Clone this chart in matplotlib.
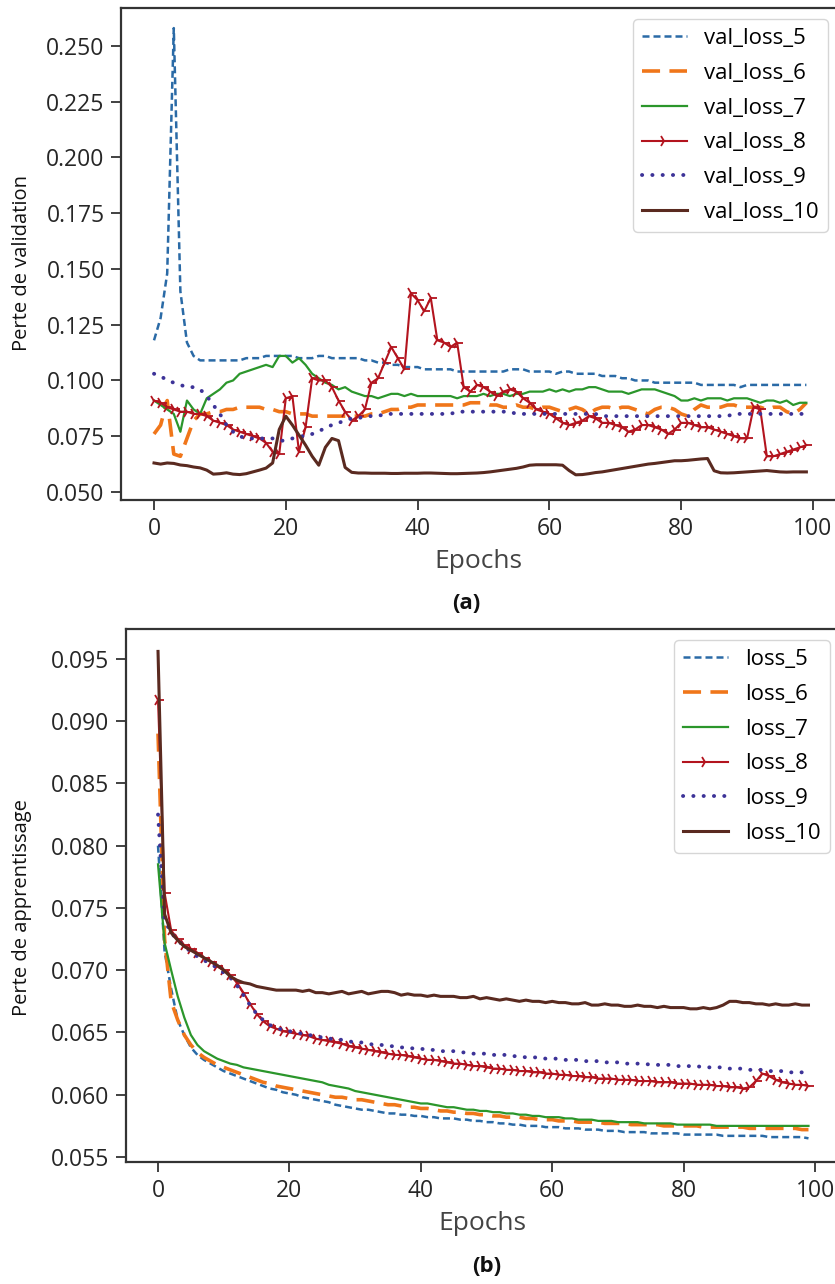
import numpy as np
import matplotlib
matplotlib.use("Agg")
from matplotlib import pyplot as plt
from matplotlib.ticker import FormatStrFormatter

plt.rcParams["font.family"] = ["Open Sans", "DejaVu Sans"]

epochs = np.arange(100)

# (a) validation loss per epoch
val_loss_5 = [
    0.118, 0.128, 0.148, 0.258, 0.140, 0.117, 0.111, 0.109, 0.109, 0.109,
    0.109, 0.109, 0.109, 0.109, 0.110, 0.110, 0.110, 0.111, 0.111, 0.111,
    0.111, 0.111, 0.110, 0.110, 0.110, 0.111, 0.111, 0.110, 0.110, 0.110,
    0.110, 0.110, 0.109, 0.109, 0.108, 0.108, 0.107, 0.107, 0.106, 0.106,
    0.106, 0.105, 0.105, 0.105, 0.105, 0.105, 0.104, 0.104, 0.104, 0.104,
    0.104, 0.104, 0.104, 0.104, 0.105, 0.105, 0.105, 0.104, 0.104, 0.104,
    0.104, 0.103, 0.104, 0.104, 0.103, 0.103, 0.103, 0.103, 0.102, 0.102,
    0.102, 0.101, 0.101, 0.100, 0.100, 0.100, 0.099, 0.099, 0.099, 0.099,
    0.099, 0.099, 0.099, 0.098, 0.098, 0.098, 0.098, 0.098, 0.098, 0.097,
    0.098, 0.098, 0.098, 0.098, 0.098, 0.098, 0.098, 0.098, 0.098, 0.098,
]
val_loss_6 = [
    0.076, 0.080, 0.091, 0.067, 0.066, 0.074, 0.082, 0.085, 0.085, 0.086,
    0.086, 0.087, 0.087, 0.088, 0.088, 0.088, 0.088, 0.087, 0.087, 0.086,
    0.086, 0.085, 0.085, 0.085, 0.084, 0.084, 0.084, 0.084, 0.084, 0.084,
    0.084, 0.084, 0.084, 0.085, 0.085, 0.086, 0.087, 0.087, 0.088, 0.088,
    0.089, 0.089, 0.089, 0.089, 0.089, 0.089, 0.089, 0.089, 0.090, 0.090,
    0.090, 0.089, 0.089, 0.088, 0.088, 0.089, 0.088, 0.088, 0.087, 0.088,
    0.088, 0.087, 0.086, 0.087, 0.088, 0.087, 0.085, 0.087, 0.088, 0.088,
    0.087, 0.088, 0.088, 0.087, 0.086, 0.085, 0.087, 0.088, 0.088, 0.087,
    0.085, 0.084, 0.087, 0.089, 0.088, 0.088, 0.088, 0.089, 0.089, 0.088,
    0.088, 0.088, 0.088, 0.087, 0.088, 0.088, 0.086, 0.085, 0.087, 0.090,
]
val_loss_7 = [
    0.091, 0.089, 0.087, 0.085, 0.077, 0.091, 0.087, 0.085, 0.092, 0.094,
    0.096, 0.099, 0.100, 0.103, 0.104, 0.105, 0.106, 0.107, 0.106, 0.111,
    0.111, 0.108, 0.110, 0.107, 0.103, 0.101, 0.099, 0.098, 0.096, 0.097,
    0.095, 0.094, 0.093, 0.093, 0.092, 0.093, 0.094, 0.094, 0.093, 0.094,
    0.093, 0.093, 0.093, 0.093, 0.093, 0.093, 0.092, 0.093, 0.093, 0.093,
    0.094, 0.093, 0.094, 0.094, 0.093, 0.094, 0.094, 0.095, 0.095, 0.095,
    0.096, 0.095, 0.096, 0.095, 0.096, 0.096, 0.097, 0.097, 0.096, 0.095,
    0.095, 0.095, 0.094, 0.095, 0.096, 0.096, 0.096, 0.095, 0.094, 0.093,
    0.091, 0.091, 0.092, 0.091, 0.092, 0.092, 0.092, 0.091, 0.092, 0.092,
    0.092, 0.091, 0.090, 0.091, 0.091, 0.090, 0.091, 0.089, 0.090, 0.090,
]
val_loss_8 = [
    0.091, 0.090, 0.088, 0.087, 0.086, 0.086, 0.085, 0.085, 0.084, 0.082,
    0.081, 0.080, 0.078, 0.077, 0.076, 0.075, 0.074, 0.072, 0.068, 0.067,
    0.092, 0.093, 0.068, 0.079, 0.101, 0.100, 0.100, 0.097, 0.091, 0.086,
    0.082, 0.084, 0.087, 0.099, 0.101, 0.108, 0.115, 0.110, 0.105, 0.139,
    0.136, 0.131, 0.137, 0.118, 0.117, 0.115, 0.117, 0.097, 0.095, 0.098,
    0.097, 0.095, 0.093, 0.095, 0.096, 0.095, 0.092, 0.090, 0.087, 0.086,
    0.085, 0.083, 0.081, 0.080, 0.081, 0.082, 0.084, 0.083, 0.081, 0.081,
    0.080, 0.079, 0.077, 0.078, 0.080, 0.080, 0.079, 0.078, 0.076, 0.078,
    0.081, 0.081, 0.080, 0.079, 0.079, 0.078, 0.077, 0.076, 0.075, 0.074,
    0.074, 0.088, 0.087, 0.066, 0.066, 0.067, 0.068, 0.069, 0.070, 0.071,
]
val_loss_9 = [
    0.103, 0.102, 0.100, 0.099, 0.098, 0.097, 0.097, 0.096, 0.093, 0.089,
    0.085, 0.080, 0.077, 0.075, 0.074, 0.074, 0.074, 0.074, 0.074, 0.073,
    0.073, 0.074, 0.075, 0.075, 0.076, 0.077, 0.079, 0.080, 0.081, 0.082,
    0.083, 0.083, 0.084, 0.084, 0.084, 0.085, 0.085, 0.085, 0.085, 0.085,
    0.085, 0.085, 0.085, 0.085, 0.085, 0.085, 0.086, 0.086, 0.086, 0.086,
    0.086, 0.086, 0.086, 0.086, 0.086, 0.085, 0.085, 0.085, 0.085, 0.085,
    0.085, 0.085, 0.085, 0.085, 0.085, 0.085, 0.085, 0.085, 0.084, 0.084,
    0.084, 0.084, 0.084, 0.084, 0.084, 0.084, 0.084, 0.084, 0.084, 0.084,
    0.084, 0.084, 0.084, 0.084, 0.084, 0.084, 0.084, 0.084, 0.085, 0.085,
    0.085, 0.085, 0.085, 0.085, 0.085, 0.085, 0.085, 0.085, 0.085, 0.085,
]
val_loss_10 = [
    0.0630, 0.0625, 0.0630, 0.0628, 0.0621, 0.0618, 0.0612, 0.0608, 0.0598, 0.0580,
    0.0582, 0.0586, 0.0580, 0.0578, 0.0582, 0.0590, 0.0598, 0.0607, 0.0630, 0.0780,
    0.0840, 0.0800, 0.0755, 0.0710, 0.0660, 0.0620, 0.0700, 0.0740, 0.0730, 0.0610,
    0.0588, 0.0585, 0.0585, 0.0584, 0.0584, 0.0584, 0.0583, 0.0583, 0.0584, 0.0584,
    0.0584, 0.0585, 0.0585, 0.0584, 0.0583, 0.0582, 0.0582, 0.0583, 0.0584, 0.0585,
    0.0587, 0.0590, 0.0594, 0.0598, 0.0602, 0.0606, 0.0612, 0.0620, 0.0622, 0.0622,
    0.0622, 0.0622, 0.0620, 0.0596, 0.0577, 0.0578, 0.0582, 0.0587, 0.0590, 0.0595,
    0.0600, 0.0605, 0.0610, 0.0615, 0.0620, 0.0625, 0.0628, 0.0632, 0.0636, 0.0640,
    0.0640, 0.0642, 0.0645, 0.0648, 0.0650, 0.0595, 0.0586, 0.0585, 0.0586, 0.0588,
    0.0590, 0.0592, 0.0594, 0.0596, 0.0593, 0.0590, 0.0589, 0.0590, 0.0590, 0.0590,
]

# (b) training loss per epoch
loss_5 = [
    0.0800, 0.0715, 0.0685, 0.0660, 0.0648, 0.0638, 0.0632, 0.0628, 0.0625, 0.0622,
    0.0619, 0.0617, 0.0615, 0.0613, 0.0611, 0.0609, 0.0607, 0.0605, 0.0604, 0.0602,
    0.0601, 0.0600, 0.0598, 0.0597, 0.0596, 0.0595, 0.0594, 0.0592, 0.0591, 0.0590,
    0.0589, 0.0588, 0.0588, 0.0587, 0.0586, 0.0585, 0.0585, 0.0584, 0.0584, 0.0583,
    0.0583, 0.0582, 0.0582, 0.0581, 0.0581, 0.0581, 0.0580, 0.0580, 0.0579, 0.0579,
    0.0578, 0.0578, 0.0577, 0.0577, 0.0576, 0.0576, 0.0575, 0.0575, 0.0575, 0.0574,
    0.0574, 0.0574, 0.0573, 0.0573, 0.0573, 0.0572, 0.0572, 0.0572, 0.0571, 0.0571,
    0.0571, 0.0570, 0.0570, 0.0570, 0.0570, 0.0569, 0.0569, 0.0569, 0.0569, 0.0569,
    0.0568, 0.0568, 0.0568, 0.0568, 0.0568, 0.0568, 0.0567, 0.0567, 0.0567, 0.0567,
    0.0567, 0.0567, 0.0567, 0.0566, 0.0566, 0.0566, 0.0566, 0.0566, 0.0566, 0.0565,
]
loss_6 = [
    0.0890, 0.0725, 0.0675, 0.0660, 0.0648, 0.0640, 0.0634, 0.0630, 0.0627, 0.0624,
    0.0622, 0.0620, 0.0618, 0.0616, 0.0614, 0.0612, 0.0610, 0.0609, 0.0607, 0.0606,
    0.0605, 0.0604, 0.0603, 0.0602, 0.0601, 0.0600, 0.0599, 0.0598, 0.0598, 0.0597,
    0.0596, 0.0596, 0.0595, 0.0594, 0.0593, 0.0592, 0.0592, 0.0591, 0.0590, 0.0590,
    0.0589, 0.0589, 0.0588, 0.0587, 0.0587, 0.0586, 0.0586, 0.0585, 0.0585, 0.0584,
    0.0584, 0.0583, 0.0583, 0.0582, 0.0582, 0.0582, 0.0581, 0.0581, 0.0580, 0.0580,
    0.0580, 0.0579, 0.0579, 0.0579, 0.0578, 0.0578, 0.0578, 0.0578, 0.0577, 0.0577,
    0.0577, 0.0577, 0.0576, 0.0576, 0.0576, 0.0576, 0.0576, 0.0575, 0.0575, 0.0575,
    0.0575, 0.0575, 0.0575, 0.0574, 0.0574, 0.0574, 0.0574, 0.0574, 0.0574, 0.0574,
    0.0573, 0.0573, 0.0573, 0.0573, 0.0573, 0.0573, 0.0573, 0.0573, 0.0572, 0.0572,
]
loss_7 = [
    0.0785, 0.0722, 0.0700, 0.0679, 0.0662, 0.0648, 0.0640, 0.0635, 0.0632, 0.0629,
    0.0627, 0.0625, 0.0624, 0.0622, 0.0621, 0.0620, 0.0619, 0.0618, 0.0617, 0.0616,
    0.0615, 0.0614, 0.0613, 0.0612, 0.0611, 0.0610, 0.0608, 0.0607, 0.0606, 0.0605,
    0.0603, 0.0602, 0.0601, 0.0600, 0.0599, 0.0598, 0.0597, 0.0596, 0.0595, 0.0594,
    0.0593, 0.0593, 0.0592, 0.0591, 0.0590, 0.0590, 0.0589, 0.0588, 0.0588, 0.0587,
    0.0587, 0.0586, 0.0586, 0.0585, 0.0585, 0.0584, 0.0584, 0.0583, 0.0583, 0.0582,
    0.0582, 0.0582, 0.0581, 0.0581, 0.0580, 0.0580, 0.0580, 0.0579, 0.0579, 0.0579,
    0.0578, 0.0578, 0.0578, 0.0578, 0.0577, 0.0577, 0.0577, 0.0577, 0.0577, 0.0576,
    0.0576, 0.0576, 0.0576, 0.0576, 0.0576, 0.0575, 0.0575, 0.0575, 0.0575, 0.0575,
    0.0575, 0.0575, 0.0575, 0.0575, 0.0575, 0.0575, 0.0575, 0.0575, 0.0575, 0.0575,
]
loss_8 = [
    0.0917, 0.0762, 0.0732, 0.0725, 0.0720, 0.0717, 0.0714, 0.0710, 0.0707, 0.0703,
    0.0700, 0.0696, 0.0690, 0.0682, 0.0673, 0.0665, 0.0659, 0.0655, 0.0653, 0.0651,
    0.0650, 0.0649, 0.0648, 0.0647, 0.0645, 0.0644, 0.0643, 0.0642, 0.0641, 0.0639,
    0.0638, 0.0637, 0.0636, 0.0635, 0.0634, 0.0633, 0.0632, 0.0632, 0.0631, 0.0630,
    0.0629, 0.0628, 0.0628, 0.0627, 0.0626, 0.0625, 0.0625, 0.0624, 0.0623, 0.0623,
    0.0622, 0.0621, 0.0621, 0.0620, 0.0620, 0.0619, 0.0619, 0.0618, 0.0618, 0.0617,
    0.0617, 0.0616, 0.0616, 0.0615, 0.0615, 0.0614, 0.0614, 0.0613, 0.0613, 0.0613,
    0.0612, 0.0612, 0.0612, 0.0611, 0.0611, 0.0611, 0.0610, 0.0610, 0.0610, 0.0609,
    0.0609, 0.0609, 0.0608, 0.0608, 0.0608, 0.0607, 0.0607, 0.0606, 0.0606, 0.0605,
    0.0606, 0.0611, 0.0617, 0.0615, 0.0612, 0.0610, 0.0609, 0.0608, 0.0608, 0.0607,
]
loss_9 = [
    0.0825, 0.0740, 0.0730, 0.0724, 0.0719, 0.0715, 0.0711, 0.0708, 0.0705, 0.0702,
    0.0698, 0.0694, 0.0688, 0.0680, 0.0672, 0.0665, 0.0660, 0.0656, 0.0654, 0.0652,
    0.0651, 0.0650, 0.0649, 0.0648, 0.0647, 0.0646, 0.0645, 0.0645, 0.0644, 0.0643,
    0.0642, 0.0642, 0.0641, 0.0640, 0.0640, 0.0639, 0.0639, 0.0638, 0.0638, 0.0637,
    0.0637, 0.0636, 0.0636, 0.0635, 0.0635, 0.0635, 0.0634, 0.0634, 0.0633, 0.0633,
    0.0633, 0.0632, 0.0632, 0.0632, 0.0631, 0.0631, 0.0630, 0.0630, 0.0630, 0.0629,
    0.0629, 0.0629, 0.0628, 0.0628, 0.0628, 0.0627, 0.0627, 0.0627, 0.0626, 0.0626,
    0.0626, 0.0625, 0.0625, 0.0625, 0.0625, 0.0624, 0.0624, 0.0624, 0.0624, 0.0623,
    0.0623, 0.0623, 0.0623, 0.0622, 0.0622, 0.0622, 0.0622, 0.0621, 0.0621, 0.0621,
    0.0620, 0.0620, 0.0620, 0.0619, 0.0619, 0.0619, 0.0618, 0.0618, 0.0618, 0.0617,
]
loss_10 = [
    0.0956, 0.0745, 0.0730, 0.0724, 0.0719, 0.0716, 0.0713, 0.0710, 0.0707, 0.0704,
    0.0700, 0.0695, 0.0692, 0.0690, 0.0689, 0.0687, 0.0686, 0.0685, 0.0684, 0.0684,
    0.0684, 0.0684, 0.0683, 0.0684, 0.0682, 0.0682, 0.0681, 0.0682, 0.0683, 0.0681,
    0.0682, 0.0683, 0.0681, 0.0682, 0.0683, 0.0683, 0.0682, 0.0680, 0.0681, 0.0680,
    0.0680, 0.0679, 0.0680, 0.0679, 0.0679, 0.0679, 0.0678, 0.0678, 0.0679, 0.0677,
    0.0678, 0.0677, 0.0676, 0.0677, 0.0676, 0.0675, 0.0676, 0.0675, 0.0675, 0.0674,
    0.0675, 0.0674, 0.0674, 0.0673, 0.0673, 0.0674, 0.0672, 0.0672, 0.0673, 0.0672,
    0.0672, 0.0671, 0.0671, 0.0672, 0.0671, 0.0671, 0.0670, 0.0671, 0.0670, 0.0670,
    0.0670, 0.0669, 0.0669, 0.0670, 0.0669, 0.0670, 0.0672, 0.0675, 0.0675, 0.0674,
    0.0674, 0.0673, 0.0673, 0.0672, 0.0673, 0.0672, 0.0672, 0.0673, 0.0672, 0.0672,
]

val_names = ["val_loss_5", "val_loss_6", "val_loss_7", "val_loss_8", "val_loss_9", "val_loss_10"]
train_names = ["loss_5", "loss_6", "loss_7", "loss_8", "loss_9", "loss_10"]

STYLES = [
    dict(color="#2a6aa6", linestyle=(0, (2.8, 1.6)), linewidth=1.8),
    dict(color="#f0761a", linestyle=(0, (5, 2.6)), linewidth=2.6),
    dict(color="#2b962b", linestyle="-", linewidth=1.6),
    dict(color="#b3141e", linestyle="-", linewidth=1.5, marker="4",
         markersize=9, markeredgewidth=1.3),
    dict(color="#3d3398", linestyle=(0, (0.05, 2.6)), linewidth=2.8,
         dash_capstyle="round"),
    dict(color="#5a2a20", linestyle="-", linewidth=2.2),
]

W, H = 835, 1284
fig = plt.figure(figsize=(W / 100, H / 100), dpi=100)


def px_axes(left, top, right, bottom):
    return fig.add_axes([left / W, 1 - bottom / H, (right - left) / W, (bottom - top) / H])


def style_axes(ax, yticks):
    ax.set_xlim(-4.95, 103.95)
    ax.set_xticks([0, 20, 40, 60, 80, 100])
    ax.set_yticks(yticks)
    ax.yaxis.set_major_formatter(FormatStrFormatter("%.3f"))
    ax.tick_params(labelsize=16.5, length=7, width=1.3, pad=5,
                   colors="#333333", labelcolor="#262626")
    for sp in ax.spines.values():
        sp.set_linewidth(1.6)
        sp.set_color("#333333")


ax1 = px_axes(121.4, 8, 839, 500)
for values, name, st in zip(
    [val_loss_5, val_loss_6, val_loss_7, val_loss_8, val_loss_9, val_loss_10],
    val_names, STYLES,
):
    ax1.plot(epochs, values, label=name, **st)
ax1.set_ylim(0.0464, 0.267)
style_axes(ax1, np.arange(0.050, 0.2501, 0.025))
ax1.legend(loc="upper right", fontsize=16, labelspacing=0.62, handlelength=2.0)

ax2 = px_axes(125.5, 629, 841, 1162)
for values, name, st in zip(
    [loss_5, loss_6, loss_7, loss_8, loss_9, loss_10],
    train_names, STYLES,
):
    ax2.plot(epochs, values, label=name, **st)
ax2.set_ylim(0.0546, 0.0974)
style_axes(ax2, np.arange(0.055, 0.0951, 0.005))
ax2.legend(loc="upper right", fontsize=16, labelspacing=0.62, handlelength=2.0)

fig.text(22 / W, 1 - 263 / H, "Perte de validation", rotation=90,
         ha="center", va="center", fontsize=14.5, color="#111111")
fig.text(22 / W, 1 - 908 / H, "Perte de apprentissage", rotation=90,
         ha="center", va="center", fontsize=14.5, color="#111111")
fig.text(478 / W, 1 - 562 / H, "Epochs", ha="center", va="center",
         fontsize=19, color="#444444")
fig.text(466 / W, 1 - 604 / H, "(a)", ha="center", va="center",
         fontsize=16, fontweight="bold", color="#111111")
fig.text(482 / W, 1 - 1224 / H, "Epochs", ha="center", va="center",
         fontsize=19, color="#444444")
fig.text(487 / W, 1 - 1266 / H, "(b)", ha="center", va="center",
         fontsize=16, fontweight="bold", color="#111111")

fig.savefig("out.png", dpi=100)
